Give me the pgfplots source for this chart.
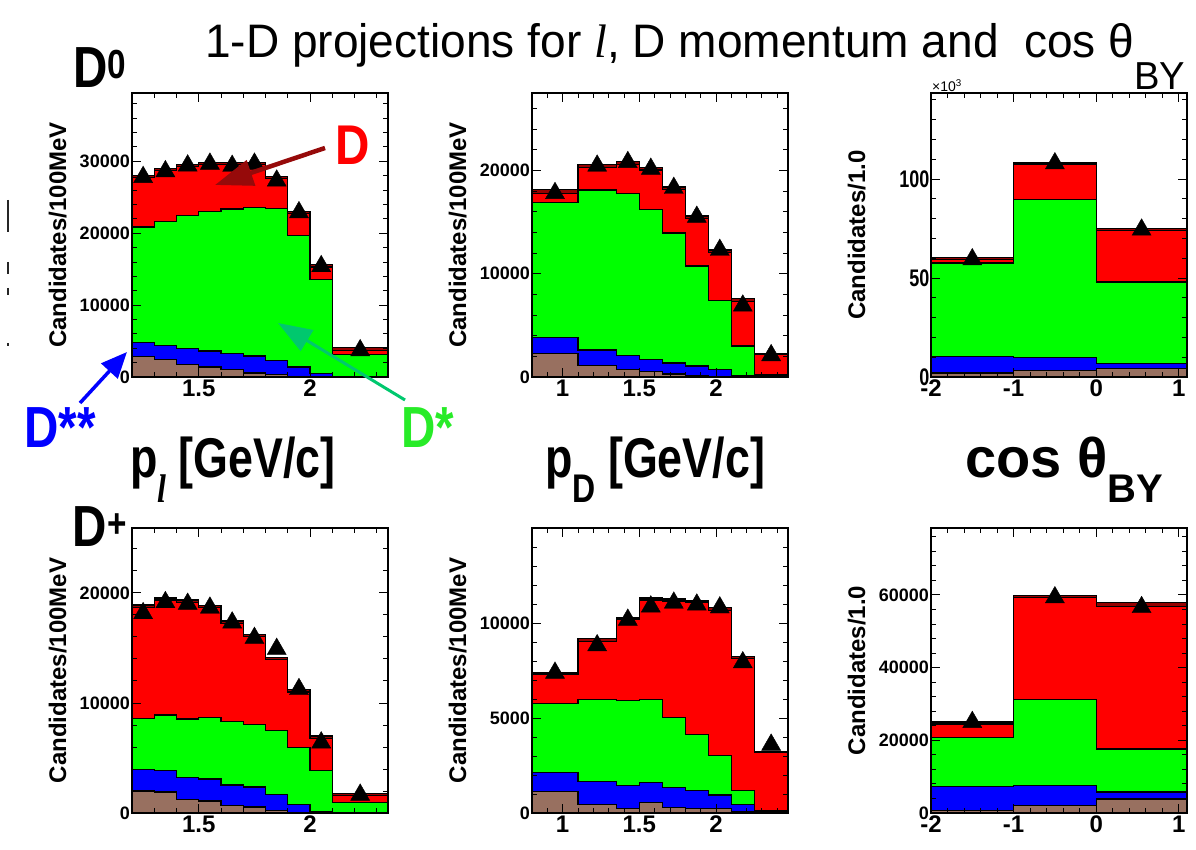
\documentclass[border=0pt]{standalone}
\usepackage{fontspec}
\setmainfont{Liberation Sans}
\newfontfamily\serifit{Liberation Serif}
\usepackage{pgfplots}
\pgfplotsset{compat=1.18}
\usepackage{pgfplotstable}
\usetikzlibrary{arrows.meta}

\definecolor{rootred}{RGB}{255,0,0}
\definecolor{rootgreen}{RGB}{0,255,0}
\definecolor{rootblue}{RGB}{0,0,255}
\definecolor{rootbrown}{RGB}{152,112,96}
\definecolor{rootdarkred}{RGB}{150,0,0}
\definecolor{arrowred}{RGB}{150,10,10}
\definecolor{arrowgreen}{RGB}{0,200,110}
\definecolor{labelgreen}{RGB}{40,235,40}

\newcommand\fs[1]{\fontsize{#1}{#1}\selectfont}

% cumulative stack tops per bin (left edge; last row closes the last bin)
\pgfplotstableread{
x tot red grn blu brn
1.2 28000 27700 20850 4750 2850
1.3 29000 28700 21650 4400 2400
1.4 29600 29300 22500 3950 1750
1.5 29850 29550 23000 3600 1400
1.6 29850 29550 23350 3250 1000
1.7 29850 29550 23600 2900 550
1.8 27900 27600 23400 2300 300
1.9 23050 22750 19700 1400 100
2.0 15600 15300 13550 450 0
2.1 4100 3650 3150 60 0
2.35 4100 3650 3150 60 0
}\plhistA
\pgfplotstableread{
x y
1.25 27800
1.35 28600
1.45 29400
1.55 29650
1.65 29350
1.75 29650
1.85 27300
1.95 22900
2.05 15400
2.225 3700
}\pldataA

\pgfplotstableread{
x tot red grn blu brn
0.8 18150 17800 16900 3800 2250
1.1 20550 20300 18100 2600 1100
1.35 20850 20600 17800 2100 700
1.5 20300 20050 16250 1700 500
1.65 18400 18150 13950 1350 300
1.8 15600 15350 10750 1050 150
1.95 12300 12050 7400 700 50
2.1 7600 7300 3000 150 0
2.25 2300 2150 180 50 0
2.47 2300 2150 180 50 0
}\pdhistA
\pgfplotstableread{
x y
0.95 17800
1.225 20450
1.425 20800
1.575 20150
1.725 18300
1.875 15500
2.025 12300
2.175 6900
2.36 2100
}\pddataA

\pgfplotstableread{
x tot red grn blu brn
-2 60.3 59.5 57.6 10.4 2.0
-1 108.3 107.6 89.6 9.9 3.4
0 75.0 74.0 48.0 6.7 4.3
1.1 75.0 74.0 48.0 6.7 4.3
}\cthistA
\pgfplotstableread{
x y
-1.5 59.4
-0.5 107.9
0.55 74.4
}\ctdataA

\pgfplotstableread{
x tot red grn blu brn
1.2 18900 18700 8600 3950 2000
1.3 19550 19350 8900 3850 1900
1.4 19350 19150 8550 3250 1250
1.5 18850 18650 8650 3100 1100
1.6 17450 17250 8300 2550 700
1.7 16250 16050 8050 2350 550
1.8 14150 13950 7500 1650 250
1.9 11250 11000 5950 750 50
2.0 7000 6800 3850 100 0
2.1 1750 1600 950 0 0
2.35 1750 1600 950 0 0
}\plhistB
\pgfplotstableread{
x y
1.25 18150
1.35 19150
1.45 19000
1.55 18650
1.65 17300
1.75 15900
1.85 14900
1.95 11250
2.05 6400
2.225 1650
}\pldataB

\pgfplotstableread{
x tot red grn blu brn
0.8 7400 7300 5800 2150 1150
1.1 9200 9050 6000 1650 450
1.35 10300 10200 5950 1450 250
1.5 11350 11250 6000 1600 550
1.65 11300 11200 5050 1350 300
1.8 11200 11100 4150 1200 250
1.95 10850 10700 3050 950 250
2.1 8250 8150 1200 450 80
2.25 3250 3200 100 80 0
2.47 3250 3200 100 80 0
}\pdhistB
\pgfplotstableread{
x y
0.95 7400
1.225 8850
1.425 10200
1.575 10900
1.725 11100
1.875 11000
2.025 10850
2.175 7950
2.36 3600
}\pddataB

\pgfplotstableread{
x tot red grn blu brn
-2 25000 24500 20700 7200 750
-1 59900 59300 31300 7550 2100
0 57900 56800 17600 5800 3850
1.1 57900 56800 17600 5800 3850
}\cthistB
\pgfplotstableread{
x y
-1.5 25000
-0.5 59300
0.55 56600
}\ctdataB

\pgfplotsset{
  histpanel/.style={
    scale only axis, width=256pt, height=284pt, anchor=south west,
    enlargelimits=false, ymin=0, clip=false,
    scaled y ticks=false, scaled x ticks=false,
    axis on top,
    axis line style={line width=1.2pt},
    tick align=inside,
    major tick length=9pt, minor tick length=5pt,
    tick style={black, line width=0.9pt},
    xticklabel style={font=\fs{24}\bfseries, inner sep=3pt},
    yticklabel style={font=\fs{18}\bfseries, inner sep=2pt},
    every axis y label/.style={at={(axis description cs:-0.29,0.5)}, rotate=90,
      anchor=center, font=\fs{24}\bfseries},
  },
  layer/.style={const plot, draw=black, line width=1.3pt, fill=#1, mark=none},
  pts/.style={only marks, mark=triangle*, mark size=11pt, black},
}

% draws the five stacked components and the data of one panel
\newcommand\stack[2]{%
  \addplot[layer=rootdarkred] table[x=x,y=tot]{#1} \closedcycle;
  \addplot[layer=rootred] table[x=x,y=red]{#1} \closedcycle;
  \addplot[layer=rootgreen] table[x=x,y=grn]{#1} \closedcycle;
  \addplot[layer=rootblue] table[x=x,y=blu]{#1} \closedcycle;
  \addplot[layer=rootbrown] table[x=x,y=brn]{#1} \closedcycle;
  \addplot[pts] table[x=x,y=y]{#2};
}

\begin{document}
\begin{tikzpicture}[x=1pt,y=1pt]
\path[use as bounding box] (0,0) rectangle (1196,850);

% ---------------- D0 row ----------------
\begin{axis}[histpanel, at={(132pt,473pt)},
  xmin=1.2, xmax=2.35, ymax=39500,
  xtick={1.5,2}, xticklabels={1.5,2},
  minor xtick={1.2,1.3,1.4,1.6,1.7,1.8,1.9,2.1,2.2,2.3},
  ytick={0,10000,20000,30000}, yticklabels={0,10000,20000,30000},
  minor ytick={0,2000,...,38000},
  ylabel={Candidates/100MeV}]
\stack{\plhistA}{\pldataA}
\end{axis}

\begin{axis}[histpanel, at={(532pt,473pt)},
  xmin=0.8, xmax=2.47, ymax=27500,
  xtick={1,1.5,2}, xticklabels={1,1.5,2},
  minor xtick={0.8,0.9,1.1,1.2,1.3,1.4,1.6,1.7,1.8,1.9,2.1,2.2,2.3,2.4},
  ytick={0,10000,20000}, yticklabels={0,10000,20000},
  minor ytick={0,2000,...,26000},
  ylabel={Candidates/100MeV}]
\stack{\pdhistA}{\pddataA}
\end{axis}

\begin{axis}[histpanel, at={(931pt,473pt)},
  xmin=-2, xmax=1.1, ymax=143.5,
  xtick={-2,-1,0,1}, xticklabels={-2,-1,0,1},
  minor xtick={-1.8,-1.6,-1.4,-1.2,-0.8,-0.6,-0.4,-0.2,0.2,0.4,0.6,0.8},
  ytick={0,50,100}, yticklabels={0,50,100},
  minor ytick={0,10,...,140},
  yticklabel style={font=\fs{24}\bfseries, xscale=0.75},
  ylabel={Candidates/1.0}]
\stack{\cthistA}{\ctdataA}
\node[anchor=south west, font=\fs{14}, inner sep=1pt] at (rel axis cs:0,1) {×10\textsuperscript{3}};
\end{axis}

% ---------------- D+ row ----------------
\begin{axis}[histpanel, at={(132pt,37pt)}, height=285pt,
  xmin=1.2, xmax=2.35, ymax=25900,
  xtick={1.5,2}, xticklabels={1.5,2},
  minor xtick={1.2,1.3,1.4,1.6,1.7,1.8,1.9,2.1,2.2,2.3},
  ytick={0,10000,20000}, yticklabels={0,10000,20000},
  minor ytick={0,2000,...,24000},
  ylabel={Candidates/100MeV}]
\stack{\plhistB}{\pldataB}
\end{axis}

\begin{axis}[histpanel, at={(532pt,37pt)}, height=285pt,
  xmin=0.8, xmax=2.47, ymax=15050,
  xtick={1,1.5,2}, xticklabels={1,1.5,2},
  minor xtick={0.8,0.9,1.1,1.2,1.3,1.4,1.6,1.7,1.8,1.9,2.1,2.2,2.3,2.4},
  ytick={0,5000,10000}, yticklabels={0,5000,10000},
  minor ytick={0,1000,...,15000},
  ylabel={Candidates/100MeV}]
\stack{\pdhistB}{\pddataB}
\end{axis}

\begin{axis}[histpanel, at={(931pt,37pt)}, height=285pt,
  xmin=-2, xmax=1.1, ymax=78400,
  xtick={-2,-1,0,1}, xticklabels={-2,-1,0,1},
  minor xtick={-1.8,-1.6,-1.4,-1.2,-0.8,-0.6,-0.4,-0.2,0.2,0.4,0.6,0.8},
  ytick={0,20000,40000,60000}, yticklabels={0,20000,40000,60000},
  minor ytick={0,4000,...,76000},
  ylabel={Candidates/1.0}]
\stack{\cthistB}{\ctdataB}
\end{axis}

% ---------------- titles and annotations ----------------
\node[anchor=base west, font=\fs{47}, inner sep=0pt, xscale=0.98] at (205,792)
  {1-D projections for {\serifit\itshape l}, D momentum and\ \ cos θ\raisebox{-32pt}{\fs{39}BY}};

\node[font=\fs{58}\bfseries, xscale=0.82] at (100,782) {D\textsuperscript{0}};
\node[font=\fs{58}\bfseries, xscale=0.82] at (100,323) {D\textsuperscript{+}};

\node[anchor=base west, font=\fs{56}\bfseries, xscale=0.8, inner sep=0pt] at (130,372)
  {p\raisebox{-25pt}{\fs{40}\serifit\itshape l}\ [GeV/c]};
\node[anchor=base west, font=\fs{56}\bfseries, xscale=0.8, inner sep=0pt] at (545,372)
  {p\raisebox{-25pt}{\fs{40}\bfseries D}\ [GeV/c]};
\node[anchor=base west, font=\fs{56}\bfseries, inner sep=0pt] at (965,372)
  {cos θ\raisebox{-25pt}{\fs{40}\bfseries BY}};

\draw[arrowred, line width=4.5pt, -{Triangle[length=38pt,width=26pt]}] (325,702) -- (215,665);
\node[text=rootred, font=\fs{56}\bfseries, xscale=0.85] at (353,705) {D};

\draw[rootblue, line width=3.5pt, -{Triangle[length=26pt,width=22pt]}] (80,447) -- (127,498);
\node[text=rootblue, font=\fs{58}\bfseries, xscale=0.82] at (60,422) {D**};

\draw[arrowgreen, line width=3pt, -{Triangle[length=34pt,width=24pt]}] (405,450) -- (278,527);
\node[text=labelgreen, font=\fs{58}\bfseries, xscale=0.82] at (428,422) {D*};

% stray marks along the left border
\draw[black!85, line width=2.5pt] (8,650) -- (8,618);
\draw[black!85, line width=2.5pt] (8,588) -- (8,576);
\draw[black!85, line width=2.5pt] (8,562) -- (8,555);
\draw[black!85, line width=2.5pt] (8,507) -- (8,504);
\end{tikzpicture}
\end{document}
